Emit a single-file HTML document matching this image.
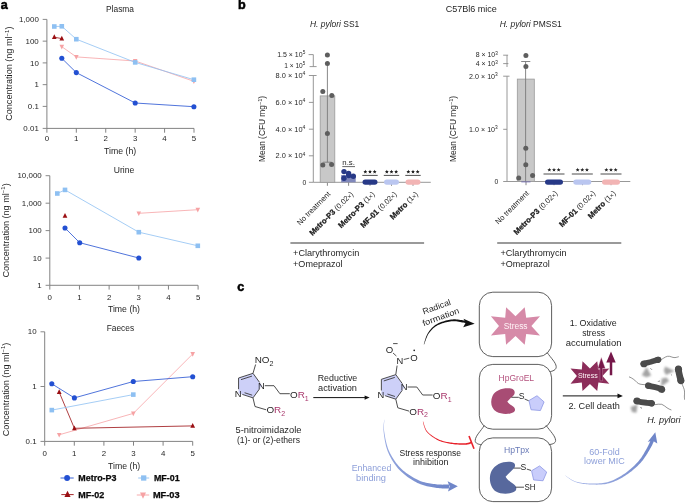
<!DOCTYPE html><html><head><meta charset="utf-8"><style>html,body{margin:0;padding:0;background:#fff;}svg{display:block;will-change:transform;}text{font-family:"Liberation Sans",sans-serif;}</style></head><body>
<svg width="685" height="503" viewBox="0 0 685 503" fill="#1e1e1e">
<rect width="685" height="503" fill="#fff"/>
<text x="0.70" y="8.70" font-size="12.6" fill="#000" font-weight="bold" stroke="#000" stroke-width="0.55">a</text>
<line x1="46.90" y1="19.40" x2="46.90" y2="128.40" stroke="#7c7c7c" stroke-width="0.95" />
<line x1="46.90" y1="128.40" x2="194.00" y2="128.40" stroke="#7c7c7c" stroke-width="0.95" />
<line x1="42.70" y1="19.40" x2="46.90" y2="19.40" stroke="#7c7c7c" stroke-width="0.9" />
<text x="38.80" y="22.05" font-size="7.4" text-anchor="end" fill="#262626" textLength="19.81" lengthAdjust="spacingAndGlyphs">1,000</text>
<line x1="42.70" y1="41.15" x2="46.90" y2="41.15" stroke="#7c7c7c" stroke-width="0.9" />
<text x="38.80" y="43.80" font-size="7.4" text-anchor="end" fill="#262626" textLength="13.21" lengthAdjust="spacingAndGlyphs">100</text>
<line x1="42.70" y1="62.90" x2="46.90" y2="62.90" stroke="#7c7c7c" stroke-width="0.9" />
<text x="38.80" y="65.55" font-size="7.4" text-anchor="end" fill="#262626" textLength="8.81" lengthAdjust="spacingAndGlyphs">10</text>
<line x1="42.70" y1="84.65" x2="46.90" y2="84.65" stroke="#7c7c7c" stroke-width="0.9" />
<text x="38.80" y="87.30" font-size="7.4" text-anchor="end" fill="#262626" textLength="4.4" lengthAdjust="spacingAndGlyphs">1</text>
<line x1="42.70" y1="106.40" x2="46.90" y2="106.40" stroke="#7c7c7c" stroke-width="0.9" />
<text x="38.80" y="109.05" font-size="7.4" text-anchor="end" fill="#262626" textLength="11.01" lengthAdjust="spacingAndGlyphs">0.1</text>
<line x1="42.70" y1="128.40" x2="46.90" y2="128.40" stroke="#7c7c7c" stroke-width="0.9" />
<text x="38.80" y="131.05" font-size="7.4" text-anchor="end" fill="#262626" textLength="15.41" lengthAdjust="spacingAndGlyphs">0.01</text>
<line x1="46.90" y1="128.40" x2="46.90" y2="132.70" stroke="#7c7c7c" stroke-width="0.95" />
<text x="46.90" y="141.00" font-size="7.4" text-anchor="middle" fill="#262626" textLength="4.4" lengthAdjust="spacingAndGlyphs">0</text>
<line x1="76.32" y1="128.40" x2="76.32" y2="132.70" stroke="#7c7c7c" stroke-width="0.95" />
<text x="76.32" y="141.00" font-size="7.4" text-anchor="middle" fill="#262626" textLength="4.4" lengthAdjust="spacingAndGlyphs">1</text>
<line x1="105.74" y1="128.40" x2="105.74" y2="132.70" stroke="#7c7c7c" stroke-width="0.95" />
<text x="105.74" y="141.00" font-size="7.4" text-anchor="middle" fill="#262626" textLength="4.4" lengthAdjust="spacingAndGlyphs">2</text>
<line x1="135.16" y1="128.40" x2="135.16" y2="132.70" stroke="#7c7c7c" stroke-width="0.95" />
<text x="135.16" y="141.00" font-size="7.4" text-anchor="middle" fill="#262626" textLength="4.4" lengthAdjust="spacingAndGlyphs">3</text>
<line x1="164.58" y1="128.40" x2="164.58" y2="132.70" stroke="#7c7c7c" stroke-width="0.95" />
<text x="164.58" y="141.00" font-size="7.4" text-anchor="middle" fill="#262626" textLength="4.4" lengthAdjust="spacingAndGlyphs">4</text>
<line x1="194.00" y1="128.40" x2="194.00" y2="132.70" stroke="#7c7c7c" stroke-width="0.95" />
<text x="194.00" y="141.00" font-size="7.4" text-anchor="middle" fill="#262626" textLength="4.4" lengthAdjust="spacingAndGlyphs">5</text>
<text x="120.00" y="11.60" font-size="9.1" text-anchor="middle" fill="#1e1e1e" textLength="28.0" lengthAdjust="spacingAndGlyphs">Plasma</text>
<text x="120.15" y="153.70" font-size="8.9" text-anchor="middle" fill="#1e1e1e" textLength="32.1" lengthAdjust="spacingAndGlyphs">Time (h)</text>
<text x="12.20" y="73.70" font-size="9" fill="#1e1e1e" text-anchor="middle" transform="rotate(-90 12.20 73.70)" textLength="94.3" lengthAdjust="spacingAndGlyphs">Concentration (ng ml<tspan font-size="6" dy="-3.4">−1</tspan><tspan dy="3.4">)</tspan></text>
<polyline points="61.80,46.70 76.30,56.90 135.20,61.00 193.90,81.30" fill="none" stroke="#f6a2a4" stroke-width="0.8" stroke-linejoin="round" />
<polygon points="61.80,49.50 64.10,44.80 59.50,44.80" fill="#f6a2a4"/>
<polygon points="76.30,59.70 78.60,55.00 74.00,55.00" fill="#f6a2a4"/>
<polygon points="135.20,63.80 137.50,59.10 132.90,59.10" fill="#f6a2a4"/>
<polygon points="193.90,84.10 196.20,79.40 191.60,79.40" fill="#f6a2a4"/>
<polyline points="54.30,37.20 61.80,38.60" fill="none" stroke="#9a0e12" stroke-width="0.8" stroke-linejoin="round" />
<polygon points="54.30,34.30 56.65,39.10 51.95,39.10" fill="#9a0e12"/>
<polygon points="61.80,35.70 64.15,40.50 59.45,40.50" fill="#9a0e12"/>
<polyline points="54.30,26.50 61.80,26.30 76.30,39.20 135.20,62.40 193.90,79.70" fill="none" stroke="#8ec0f2" stroke-width="0.8" stroke-linejoin="round" />
<rect x="52.00" y="24.20" width="4.60" height="4.60" fill="#8ec0f2"/>
<rect x="59.50" y="24.00" width="4.60" height="4.60" fill="#8ec0f2"/>
<rect x="74.00" y="36.90" width="4.60" height="4.60" fill="#8ec0f2"/>
<rect x="132.90" y="60.10" width="4.60" height="4.60" fill="#8ec0f2"/>
<rect x="191.60" y="77.40" width="4.60" height="4.60" fill="#8ec0f2"/>
<polyline points="61.80,58.30 76.30,72.60 135.20,103.00 193.90,106.70" fill="none" stroke="#2350d2" stroke-width="0.8" stroke-linejoin="round" />
<circle cx="61.80" cy="58.30" r="2.55" fill="#2350d2"/>
<circle cx="76.30" cy="72.60" r="2.55" fill="#2350d2"/>
<circle cx="135.20" cy="103.00" r="2.55" fill="#2350d2"/>
<circle cx="193.90" cy="106.70" r="2.55" fill="#2350d2"/>
<line x1="49.80" y1="175.70" x2="49.80" y2="285.30" stroke="#7c7c7c" stroke-width="0.95" />
<line x1="49.80" y1="285.30" x2="198.00" y2="285.30" stroke="#7c7c7c" stroke-width="0.95" />
<line x1="45.60" y1="175.70" x2="49.80" y2="175.70" stroke="#7c7c7c" stroke-width="0.9" />
<text x="41.70" y="178.35" font-size="7.4" text-anchor="end" fill="#262626" textLength="24.22" lengthAdjust="spacingAndGlyphs">10,000</text>
<line x1="45.60" y1="203.20" x2="49.80" y2="203.20" stroke="#7c7c7c" stroke-width="0.9" />
<text x="41.70" y="205.85" font-size="7.4" text-anchor="end" fill="#262626" textLength="19.81" lengthAdjust="spacingAndGlyphs">1,000</text>
<line x1="45.60" y1="230.60" x2="49.80" y2="230.60" stroke="#7c7c7c" stroke-width="0.9" />
<text x="41.70" y="233.25" font-size="7.4" text-anchor="end" fill="#262626" textLength="13.21" lengthAdjust="spacingAndGlyphs">100</text>
<line x1="45.60" y1="258.10" x2="49.80" y2="258.10" stroke="#7c7c7c" stroke-width="0.9" />
<text x="41.70" y="260.75" font-size="7.4" text-anchor="end" fill="#262626" textLength="8.81" lengthAdjust="spacingAndGlyphs">10</text>
<line x1="45.60" y1="285.30" x2="49.80" y2="285.30" stroke="#7c7c7c" stroke-width="0.9" />
<text x="41.70" y="287.95" font-size="7.4" text-anchor="end" fill="#262626" textLength="4.4" lengthAdjust="spacingAndGlyphs">1</text>
<line x1="49.80" y1="285.30" x2="49.80" y2="289.60" stroke="#7c7c7c" stroke-width="0.95" />
<text x="49.80" y="299.90" font-size="7.4" text-anchor="middle" fill="#262626" textLength="4.4" lengthAdjust="spacingAndGlyphs">0</text>
<line x1="79.46" y1="285.30" x2="79.46" y2="289.60" stroke="#7c7c7c" stroke-width="0.95" />
<text x="79.46" y="299.90" font-size="7.4" text-anchor="middle" fill="#262626" textLength="4.4" lengthAdjust="spacingAndGlyphs">1</text>
<line x1="109.12" y1="285.30" x2="109.12" y2="289.60" stroke="#7c7c7c" stroke-width="0.95" />
<text x="109.12" y="299.90" font-size="7.4" text-anchor="middle" fill="#262626" textLength="4.4" lengthAdjust="spacingAndGlyphs">2</text>
<line x1="138.78" y1="285.30" x2="138.78" y2="289.60" stroke="#7c7c7c" stroke-width="0.95" />
<text x="138.78" y="299.90" font-size="7.4" text-anchor="middle" fill="#262626" textLength="4.4" lengthAdjust="spacingAndGlyphs">3</text>
<line x1="168.44" y1="285.30" x2="168.44" y2="289.60" stroke="#7c7c7c" stroke-width="0.95" />
<text x="168.44" y="299.90" font-size="7.4" text-anchor="middle" fill="#262626" textLength="4.4" lengthAdjust="spacingAndGlyphs">4</text>
<line x1="198.10" y1="285.30" x2="198.10" y2="289.60" stroke="#7c7c7c" stroke-width="0.95" />
<text x="198.10" y="299.90" font-size="7.4" text-anchor="middle" fill="#262626" textLength="4.4" lengthAdjust="spacingAndGlyphs">5</text>
<text x="123.95" y="173.10" font-size="9.1" text-anchor="middle" fill="#1e1e1e" textLength="20.5" lengthAdjust="spacingAndGlyphs">Urine</text>
<text x="124.00" y="311.90" font-size="8.9" text-anchor="middle" fill="#1e1e1e" textLength="32.1" lengthAdjust="spacingAndGlyphs">Time (h)</text>
<text x="8.80" y="230.40" font-size="9" fill="#1e1e1e" text-anchor="middle" transform="rotate(-90 8.80 230.40)" textLength="94.2" lengthAdjust="spacingAndGlyphs">Concentration (ng ml<tspan font-size="6" dy="-3.4">−1</tspan><tspan dy="3.4">)</tspan></text>
<polyline points="138.80,213.30 197.80,209.70" fill="none" stroke="#f6a2a4" stroke-width="0.8" stroke-linejoin="round" />
<polygon points="138.80,216.10 141.10,211.40 136.50,211.40" fill="#f6a2a4"/>
<polygon points="197.80,212.50 200.10,207.80 195.50,207.80" fill="#f6a2a4"/>
<polygon points="65.00,212.90 67.35,217.70 62.65,217.70" fill="#9a0e12"/>
<polyline points="57.30,193.50 65.00,189.90 138.80,232.20 197.80,245.80" fill="none" stroke="#8ec0f2" stroke-width="0.8" stroke-linejoin="round" />
<rect x="55.00" y="191.20" width="4.60" height="4.60" fill="#8ec0f2"/>
<rect x="62.70" y="187.60" width="4.60" height="4.60" fill="#8ec0f2"/>
<rect x="136.50" y="229.90" width="4.60" height="4.60" fill="#8ec0f2"/>
<rect x="195.50" y="243.50" width="4.60" height="4.60" fill="#8ec0f2"/>
<polyline points="65.00,228.00 79.70,242.70 138.80,258.00" fill="none" stroke="#2350d2" stroke-width="0.8" stroke-linejoin="round" />
<circle cx="65.00" cy="228.00" r="2.55" fill="#2350d2"/>
<circle cx="79.70" cy="242.70" r="2.55" fill="#2350d2"/>
<circle cx="138.80" cy="258.00" r="2.55" fill="#2350d2"/>
<line x1="44.70" y1="331.80" x2="44.70" y2="441.40" stroke="#7c7c7c" stroke-width="0.95" />
<line x1="44.70" y1="441.40" x2="192.70" y2="441.40" stroke="#7c7c7c" stroke-width="0.95" />
<line x1="40.50" y1="331.80" x2="44.70" y2="331.80" stroke="#7c7c7c" stroke-width="0.9" />
<text x="36.60" y="334.45" font-size="7.4" text-anchor="end" fill="#262626" textLength="8.81" lengthAdjust="spacingAndGlyphs">10</text>
<line x1="40.50" y1="386.50" x2="44.70" y2="386.50" stroke="#7c7c7c" stroke-width="0.9" />
<text x="36.60" y="389.15" font-size="7.4" text-anchor="end" fill="#262626" textLength="4.4" lengthAdjust="spacingAndGlyphs">1</text>
<line x1="40.50" y1="441.40" x2="44.70" y2="441.40" stroke="#7c7c7c" stroke-width="0.9" />
<text x="36.60" y="444.05" font-size="7.4" text-anchor="end" fill="#262626" textLength="11.01" lengthAdjust="spacingAndGlyphs">0.1</text>
<line x1="44.70" y1="441.40" x2="44.70" y2="445.70" stroke="#7c7c7c" stroke-width="0.95" />
<text x="44.70" y="455.60" font-size="7.4" text-anchor="middle" fill="#262626" textLength="4.4" lengthAdjust="spacingAndGlyphs">0</text>
<line x1="74.30" y1="441.40" x2="74.30" y2="445.70" stroke="#7c7c7c" stroke-width="0.95" />
<text x="74.30" y="455.60" font-size="7.4" text-anchor="middle" fill="#262626" textLength="4.4" lengthAdjust="spacingAndGlyphs">1</text>
<line x1="103.90" y1="441.40" x2="103.90" y2="445.70" stroke="#7c7c7c" stroke-width="0.95" />
<text x="103.90" y="455.60" font-size="7.4" text-anchor="middle" fill="#262626" textLength="4.4" lengthAdjust="spacingAndGlyphs">2</text>
<line x1="133.50" y1="441.40" x2="133.50" y2="445.70" stroke="#7c7c7c" stroke-width="0.95" />
<text x="133.50" y="455.60" font-size="7.4" text-anchor="middle" fill="#262626" textLength="4.4" lengthAdjust="spacingAndGlyphs">3</text>
<line x1="163.10" y1="441.40" x2="163.10" y2="445.70" stroke="#7c7c7c" stroke-width="0.95" />
<text x="163.10" y="455.60" font-size="7.4" text-anchor="middle" fill="#262626" textLength="4.4" lengthAdjust="spacingAndGlyphs">4</text>
<line x1="192.70" y1="441.40" x2="192.70" y2="445.70" stroke="#7c7c7c" stroke-width="0.95" />
<text x="192.70" y="455.60" font-size="7.4" text-anchor="middle" fill="#262626" textLength="4.4" lengthAdjust="spacingAndGlyphs">5</text>
<text x="120.40" y="331.10" font-size="9.1" text-anchor="middle" fill="#1e1e1e" textLength="27.4" lengthAdjust="spacingAndGlyphs">Faeces</text>
<text x="124.10" y="468.50" font-size="8.9" text-anchor="middle" fill="#1e1e1e" textLength="32.1" lengthAdjust="spacingAndGlyphs">Time (h)</text>
<text x="8.80" y="389.50" font-size="9" fill="#1e1e1e" text-anchor="middle" transform="rotate(-90 8.80 389.50)" textLength="93.5" lengthAdjust="spacingAndGlyphs">Concentration (ng ml<tspan font-size="6" dy="-3.4">−1</tspan><tspan dy="3.4">)</tspan></text>
<polyline points="59.20,434.80 133.30,413.40 192.70,354.00" fill="none" stroke="#f6a2a4" stroke-width="0.8" stroke-linejoin="round" />
<polygon points="59.20,437.60 61.50,432.90 56.90,432.90" fill="#f6a2a4"/>
<polygon points="133.30,416.20 135.60,411.50 131.00,411.50" fill="#f6a2a4"/>
<polygon points="192.70,356.80 195.00,352.10 190.40,352.10" fill="#f6a2a4"/>
<polyline points="59.20,392.20 74.40,428.30 192.70,425.90" fill="none" stroke="#9a0e12" stroke-width="0.8" stroke-linejoin="round" />
<polygon points="59.20,389.30 61.55,394.10 56.85,394.10" fill="#9a0e12"/>
<polygon points="74.40,425.40 76.75,430.20 72.05,430.20" fill="#9a0e12"/>
<polygon points="192.70,423.00 195.05,427.80 190.35,427.80" fill="#9a0e12"/>
<polyline points="51.80,410.10 133.30,394.60" fill="none" stroke="#8ec0f2" stroke-width="0.8" stroke-linejoin="round" />
<rect x="49.50" y="407.80" width="4.60" height="4.60" fill="#8ec0f2"/>
<rect x="131.00" y="392.30" width="4.60" height="4.60" fill="#8ec0f2"/>
<polyline points="51.80,383.80 74.40,397.90 133.30,381.50 192.70,376.70" fill="none" stroke="#2350d2" stroke-width="0.8" stroke-linejoin="round" />
<circle cx="51.80" cy="383.80" r="2.55" fill="#2350d2"/>
<circle cx="74.40" cy="397.90" r="2.55" fill="#2350d2"/>
<circle cx="133.30" cy="381.50" r="2.55" fill="#2350d2"/>
<circle cx="192.70" cy="376.70" r="2.55" fill="#2350d2"/>
<line x1="60.50" y1="478.00" x2="73.70" y2="478.00" stroke="#2350d2" stroke-width="0.9" />
<circle cx="67.10" cy="478.00" r="2.93" fill="#2350d2"/>
<text x="78.30" y="481.20" font-size="8.6" fill="#0a0a0a" font-weight="bold" textLength="38.2" lengthAdjust="spacingAndGlyphs" stroke="#0a0a0a" stroke-width="0.25">Metro-P3</text>
<line x1="138.20" y1="478.00" x2="149.20" y2="478.00" stroke="#8ec0f2" stroke-width="0.9" />
<rect x="141.05" y="475.36" width="5.29" height="5.29" fill="#8ec0f2"/>
<text x="153.90" y="481.20" font-size="8.6" fill="#0a0a0a" font-weight="bold" textLength="25.7" lengthAdjust="spacingAndGlyphs" stroke="#0a0a0a" stroke-width="0.25">MF-01</text>
<line x1="61.30" y1="494.60" x2="73.70" y2="494.60" stroke="#9a0e12" stroke-width="0.9" />
<polygon points="67.50,490.83 70.56,497.07 64.44,497.07" fill="#9a0e12"/>
<text x="78.30" y="497.80" font-size="8.6" fill="#0a0a0a" font-weight="bold" textLength="26.0" lengthAdjust="spacingAndGlyphs" stroke="#0a0a0a" stroke-width="0.25">MF-02</text>
<line x1="136.80" y1="495.00" x2="149.20" y2="495.00" stroke="#f6a2a4" stroke-width="0.9" />
<polygon points="143.00,498.64 145.99,492.53 140.01,492.53" fill="#f6a2a4"/>
<text x="152.90" y="498.20" font-size="8.6" fill="#0a0a0a" font-weight="bold" textLength="26.7" lengthAdjust="spacingAndGlyphs" stroke="#0a0a0a" stroke-width="0.25">MF-03</text>
<text x="237.90" y="8.60" font-size="12.6" fill="#000" font-weight="bold" stroke="#000" stroke-width="0.55">b</text>
<text x="471.30" y="11.80" font-size="8.8" text-anchor="middle" fill="#1e1e1e" textLength="51.2" lengthAdjust="spacingAndGlyphs">C57Bl6 mice</text>
<text x="309.9" y="27.2" font-size="8.6" textLength="49.4" lengthAdjust="spacingAndGlyphs"><tspan font-style="italic">H. pylori</tspan> SS1</text>
<text x="499.7" y="27.2" font-size="8.6" textLength="62.1" lengthAdjust="spacingAndGlyphs"><tspan font-style="italic">H. pylori</tspan> PMSS1</text>
<text x="264.80" y="129.00" font-size="8.4" text-anchor="middle" transform="rotate(-90 264.80 129.00)" textLength="66.1" lengthAdjust="spacingAndGlyphs">Mean (CFU mg<tspan font-size="5.6" dy="-3">−1</tspan><tspan dy="3">)</tspan></text>
<text x="455.70" y="129.00" font-size="8.4" text-anchor="middle" transform="rotate(-90 455.70 129.00)" textLength="66.1" lengthAdjust="spacingAndGlyphs">Mean (CFU mg<tspan font-size="5.6" dy="-3">−1</tspan><tspan dy="3">)</tspan></text>
<line x1="313.30" y1="54.60" x2="313.30" y2="66.60" stroke="#8c8c8c" stroke-width="0.9" />
<line x1="308.60" y1="54.60" x2="313.30" y2="54.60" stroke="#8c8c8c" stroke-width="0.9" />
<line x1="309.60" y1="66.60" x2="316.60" y2="66.60" stroke="#8c8c8c" stroke-width="0.9" />
<line x1="313.30" y1="75.50" x2="313.30" y2="182.30" stroke="#8c8c8c" stroke-width="0.9" />
<line x1="308.90" y1="75.50" x2="316.60" y2="75.50" stroke="#8c8c8c" stroke-width="0.9" />
<line x1="308.90" y1="102.40" x2="313.30" y2="102.40" stroke="#8c8c8c" stroke-width="0.9" />
<line x1="308.90" y1="129.20" x2="313.30" y2="129.20" stroke="#8c8c8c" stroke-width="0.9" />
<line x1="308.90" y1="155.80" x2="313.30" y2="155.80" stroke="#8c8c8c" stroke-width="0.9" />
<line x1="308.90" y1="182.30" x2="313.30" y2="182.30" stroke="#8c8c8c" stroke-width="0.9" />
<line x1="313.30" y1="182.30" x2="430.80" y2="182.30" stroke="#8c8c8c" stroke-width="0.9" />
<text x="305.30" y="57.00" font-size="6.6" text-anchor="end" fill="#262626" textLength="28.13" lengthAdjust="spacingAndGlyphs">1.5 × 10<tspan font-size="4.49" dy="-2.7">5</tspan></text>
<text x="305.30" y="67.70" font-size="6.6" text-anchor="end" fill="#262626" textLength="21.03" lengthAdjust="spacingAndGlyphs">1 × 10<tspan font-size="4.49" dy="-2.7">5</tspan></text>
<text x="305.30" y="77.90" font-size="6.6" text-anchor="end" fill="#262626" textLength="29.72" lengthAdjust="spacingAndGlyphs">8.0 × 10<tspan font-size="4.49" dy="-2.7">4</tspan></text>
<text x="305.30" y="104.80" font-size="6.6" text-anchor="end" fill="#262626" textLength="29.72" lengthAdjust="spacingAndGlyphs">6.0 × 10<tspan font-size="4.49" dy="-2.7">4</tspan></text>
<text x="305.30" y="131.60" font-size="6.6" text-anchor="end" fill="#262626" textLength="29.72" lengthAdjust="spacingAndGlyphs">4.0 × 10<tspan font-size="4.49" dy="-2.7">4</tspan></text>
<text x="305.30" y="158.20" font-size="6.6" text-anchor="end" fill="#262626" textLength="29.72" lengthAdjust="spacingAndGlyphs">2.0 × 10<tspan font-size="4.49" dy="-2.7">4</tspan></text>
<text x="306.40" y="184.70" font-size="6.8" text-anchor="end" fill="#262626">0</text>
<line x1="327.40" y1="182.30" x2="327.40" y2="185.80" stroke="#7a7a7a" stroke-width="0.9" />
<line x1="348.60" y1="182.30" x2="348.60" y2="185.80" stroke="#7a7a7a" stroke-width="0.9" />
<line x1="370.00" y1="182.30" x2="370.00" y2="185.80" stroke="#7a7a7a" stroke-width="0.9" />
<line x1="391.50" y1="182.30" x2="391.50" y2="185.80" stroke="#7a7a7a" stroke-width="0.9" />
<line x1="413.00" y1="182.30" x2="413.00" y2="185.80" stroke="#7a7a7a" stroke-width="0.9" />
<rect x="320.2" y="95.9" width="14.6" height="86.4" fill="#c8c8c8" stroke="#9a9a9a" stroke-width="0.8"/>
<line x1="327.40" y1="63.40" x2="327.40" y2="162.20" stroke="#7a7a7a" stroke-width="0.9" />
<line x1="323.20" y1="162.20" x2="331.60" y2="162.20" stroke="#7a7a7a" stroke-width="0.9" />
<circle cx="327.4" cy="55.0" r="2.5" fill="#5e5e5e"/>
<circle cx="327.4" cy="63.4" r="2.5" fill="#5e5e5e"/>
<circle cx="322.8" cy="91.5" r="2.5" fill="#5e5e5e"/>
<circle cx="331.8" cy="95.5" r="2.5" fill="#5e5e5e"/>
<circle cx="327.4" cy="133.5" r="2.5" fill="#5e5e5e"/>
<circle cx="322.8" cy="165.0" r="2.5" fill="#5e5e5e"/>
<circle cx="331.6" cy="164.5" r="2.5" fill="#5e5e5e"/>
<rect x="341.2" y="175.0" width="14.5" height="7.3" fill="#8088bb"/>
<circle cx="348.8" cy="175.6" r="2.7" fill="#273987"/>
<circle cx="344.0" cy="171.6" r="2.7" fill="#273987"/>
<circle cx="348.6" cy="173.4" r="2.7" fill="#273987"/>
<circle cx="353.3" cy="176.2" r="2.7" fill="#273987"/>
<circle cx="344.0" cy="178.2" r="2.7" fill="#273987"/>
<text x="348.60" y="164.80" font-size="7.2" text-anchor="middle" fill="#262626" textLength="12.6" lengthAdjust="spacingAndGlyphs">n.s.</text>
<line x1="342.30" y1="166.60" x2="355.00" y2="166.60" stroke="#555" stroke-width="0.9" />
<rect x="362.50" y="179.40" width="15" height="5.4" rx="2.7" fill="#273987"/>
<rect x="384.00" y="179.40" width="15" height="5.4" rx="2.7" fill="#bac6f0"/>
<rect x="405.50" y="179.40" width="15" height="5.4" rx="2.7" fill="#f2b4b4"/>
<polygon points="365.35,169.70 365.91,171.03 367.35,171.15 366.25,172.09 366.58,173.50 365.35,172.75 364.12,173.50 364.45,172.09 363.35,171.15 364.79,171.03" fill="#1e1e1e"/>
<polygon points="370.00,169.70 370.56,171.03 372.00,171.15 370.90,172.09 371.23,173.50 370.00,172.75 368.77,173.50 369.10,172.09 368.00,171.15 369.44,171.03" fill="#1e1e1e"/>
<polygon points="374.65,169.70 375.21,171.03 376.65,171.15 375.55,172.09 375.88,173.50 374.65,172.75 373.42,173.50 373.75,172.09 372.65,171.15 374.09,171.03" fill="#1e1e1e"/>
<line x1="362.30" y1="175.40" x2="377.70" y2="175.40" stroke="#444" stroke-width="0.95" />
<polygon points="386.85,169.70 387.41,171.03 388.85,171.15 387.75,172.09 388.08,173.50 386.85,172.75 385.62,173.50 385.95,172.09 384.85,171.15 386.29,171.03" fill="#1e1e1e"/>
<polygon points="391.50,169.70 392.06,171.03 393.50,171.15 392.40,172.09 392.73,173.50 391.50,172.75 390.27,173.50 390.60,172.09 389.50,171.15 390.94,171.03" fill="#1e1e1e"/>
<polygon points="396.15,169.70 396.71,171.03 398.15,171.15 397.05,172.09 397.38,173.50 396.15,172.75 394.92,173.50 395.25,172.09 394.15,171.15 395.59,171.03" fill="#1e1e1e"/>
<line x1="383.80" y1="175.40" x2="399.20" y2="175.40" stroke="#444" stroke-width="0.95" />
<polygon points="408.35,169.70 408.91,171.03 410.35,171.15 409.25,172.09 409.58,173.50 408.35,172.75 407.12,173.50 407.45,172.09 406.35,171.15 407.79,171.03" fill="#1e1e1e"/>
<polygon points="413.00,169.70 413.56,171.03 415.00,171.15 413.90,172.09 414.23,173.50 413.00,172.75 411.77,173.50 412.10,172.09 411.00,171.15 412.44,171.03" fill="#1e1e1e"/>
<polygon points="417.65,169.70 418.21,171.03 419.65,171.15 418.55,172.09 418.88,173.50 417.65,172.75 416.42,173.50 416.75,172.09 415.65,171.15 417.09,171.03" fill="#1e1e1e"/>
<line x1="405.30" y1="175.40" x2="420.70" y2="175.40" stroke="#444" stroke-width="0.95" />
<text x="331.00" y="194.60" font-size="7.75" text-anchor="end" transform="rotate(-45 331.00 194.60)" fill="#222"><tspan font-size="7.6">No treatment</tspan></text>
<text x="353.80" y="194.60" font-size="7.75" text-anchor="end" transform="rotate(-45 353.80 194.60)" fill="#222"><tspan font-weight="bold" stroke="#111" stroke-width="0.25">Metro-P3</tspan><tspan font-size="7.6"> (0.02<tspan font-size="5.8">×</tspan>)</tspan></text>
<text x="375.30" y="194.60" font-size="7.75" text-anchor="end" transform="rotate(-45 375.30 194.60)" fill="#222"><tspan font-weight="bold" stroke="#111" stroke-width="0.25">Metro-P3</tspan><tspan font-size="7.6"> (1<tspan font-size="5.8">×</tspan>)</tspan></text>
<text x="397.30" y="194.60" font-size="7.75" text-anchor="end" transform="rotate(-45 397.30 194.60)" fill="#222"><tspan font-weight="bold" stroke="#111" stroke-width="0.25">MF-01</tspan><tspan font-size="7.6"> (0.02<tspan font-size="5.8">×</tspan>)</tspan></text>
<text x="418.50" y="194.60" font-size="7.75" text-anchor="end" transform="rotate(-45 418.50 194.60)" fill="#222"><tspan font-weight="bold" stroke="#111" stroke-width="0.25">Metro</tspan><tspan font-size="7.6"> (1<tspan font-size="5.8">×</tspan>)</tspan></text>
<line x1="507.00" y1="55.20" x2="507.00" y2="67.00" stroke="#8c8c8c" stroke-width="0.9" />
<line x1="503.20" y1="55.20" x2="508.10" y2="55.20" stroke="#8c8c8c" stroke-width="0.9" />
<line x1="503.20" y1="63.60" x2="508.40" y2="63.60" stroke="#8c8c8c" stroke-width="0.9" />
<line x1="507.00" y1="76.20" x2="507.00" y2="181.50" stroke="#8c8c8c" stroke-width="0.9" />
<line x1="503.20" y1="76.20" x2="509.50" y2="76.20" stroke="#8c8c8c" stroke-width="0.9" />
<line x1="503.20" y1="129.30" x2="507.00" y2="129.30" stroke="#8c8c8c" stroke-width="0.9" />
<line x1="503.20" y1="181.50" x2="507.00" y2="181.50" stroke="#8c8c8c" stroke-width="0.9" />
<line x1="507.00" y1="181.50" x2="630.30" y2="181.50" stroke="#8c8c8c" stroke-width="0.9" />
<text x="497.80" y="57.20" font-size="6.6" text-anchor="end" fill="#262626" textLength="22.08" lengthAdjust="spacingAndGlyphs">8 × 10<tspan font-size="4.49" dy="-2.7">3</tspan></text>
<text x="497.80" y="66.40" font-size="6.6" text-anchor="end" fill="#262626" textLength="22.08" lengthAdjust="spacingAndGlyphs">4 × 10<tspan font-size="4.49" dy="-2.7">3</tspan></text>
<text x="497.80" y="78.80" font-size="6.6" text-anchor="end" fill="#262626" textLength="28.66" lengthAdjust="spacingAndGlyphs">2.0 × 10<tspan font-size="4.49" dy="-2.7">3</tspan></text>
<text x="497.80" y="131.70" font-size="6.6" text-anchor="end" fill="#262626" textLength="28.66" lengthAdjust="spacingAndGlyphs">1.0 × 10<tspan font-size="4.49" dy="-2.7">3</tspan></text>
<text x="498.40" y="183.90" font-size="6.8" text-anchor="end" fill="#262626">0</text>
<line x1="526.00" y1="181.50" x2="526.00" y2="185.20" stroke="#7a7a7a" stroke-width="0.9" />
<line x1="554.00" y1="181.50" x2="554.00" y2="185.20" stroke="#7a7a7a" stroke-width="0.9" />
<line x1="582.50" y1="181.50" x2="582.50" y2="185.20" stroke="#7a7a7a" stroke-width="0.9" />
<line x1="611.00" y1="181.50" x2="611.00" y2="185.20" stroke="#7a7a7a" stroke-width="0.9" />
<rect x="517.3" y="79.1" width="17" height="102.4" fill="#c8c8c8" stroke="#9a9a9a" stroke-width="0.8"/>
<line x1="525.60" y1="61.50" x2="525.60" y2="181.50" stroke="#7a7a7a" stroke-width="0.9" />
<line x1="521.20" y1="61.50" x2="530.30" y2="61.50" stroke="#7a7a7a" stroke-width="0.9" />
<circle cx="525.9" cy="55.6" r="2.5" fill="#5e5e5e"/>
<circle cx="525.9" cy="66.6" r="2.5" fill="#5e5e5e"/>
<circle cx="525.8" cy="148.3" r="2.5" fill="#5e5e5e"/>
<circle cx="525.8" cy="164.7" r="2.5" fill="#5e5e5e"/>
<circle cx="518.7" cy="178.0" r="2.5" fill="#5e5e5e"/>
<circle cx="532.6" cy="175.5" r="2.5" fill="#5e5e5e"/>
<line x1="521.30" y1="181.90" x2="530.50" y2="181.90" stroke="#6a62b0" stroke-width="0.8" />
<rect x="545.00" y="179.40" width="18" height="5.4" rx="2.7" fill="#273987"/>
<rect x="573.30" y="179.40" width="18" height="5.4" rx="2.7" fill="#bac6f0"/>
<rect x="602.00" y="179.40" width="18" height="5.4" rx="2.7" fill="#f2b4b4"/>
<polygon points="549.35,167.80 549.91,169.13 551.35,169.25 550.25,170.19 550.58,171.60 549.35,170.85 548.12,171.60 548.45,170.19 547.35,169.25 548.79,169.13" fill="#1e1e1e"/>
<polygon points="554.00,167.80 554.56,169.13 556.00,169.25 554.90,170.19 555.23,171.60 554.00,170.85 552.77,171.60 553.10,170.19 552.00,169.25 553.44,169.13" fill="#1e1e1e"/>
<polygon points="558.65,167.80 559.21,169.13 560.65,169.25 559.55,170.19 559.88,171.60 558.65,170.85 557.42,171.60 557.75,170.19 556.65,169.25 558.09,169.13" fill="#1e1e1e"/>
<line x1="543.50" y1="174.00" x2="564.50" y2="174.00" stroke="#444" stroke-width="0.95" />
<polygon points="577.65,167.80 578.21,169.13 579.65,169.25 578.55,170.19 578.88,171.60 577.65,170.85 576.42,171.60 576.75,170.19 575.65,169.25 577.09,169.13" fill="#1e1e1e"/>
<polygon points="582.30,167.80 582.86,169.13 584.30,169.25 583.20,170.19 583.53,171.60 582.30,170.85 581.07,171.60 581.40,170.19 580.30,169.25 581.74,169.13" fill="#1e1e1e"/>
<polygon points="586.95,167.80 587.51,169.13 588.95,169.25 587.85,170.19 588.18,171.60 586.95,170.85 585.72,171.60 586.05,170.19 584.95,169.25 586.39,169.13" fill="#1e1e1e"/>
<line x1="571.80" y1="174.00" x2="592.80" y2="174.00" stroke="#444" stroke-width="0.95" />
<polygon points="606.35,167.80 606.91,169.13 608.35,169.25 607.25,170.19 607.58,171.60 606.35,170.85 605.12,171.60 605.45,170.19 604.35,169.25 605.79,169.13" fill="#1e1e1e"/>
<polygon points="611.00,167.80 611.56,169.13 613.00,169.25 611.90,170.19 612.23,171.60 611.00,170.85 609.77,171.60 610.10,170.19 609.00,169.25 610.44,169.13" fill="#1e1e1e"/>
<polygon points="615.65,167.80 616.21,169.13 617.65,169.25 616.55,170.19 616.88,171.60 615.65,170.85 614.42,171.60 614.75,170.19 613.65,169.25 615.09,169.13" fill="#1e1e1e"/>
<line x1="600.50" y1="174.00" x2="621.50" y2="174.00" stroke="#444" stroke-width="0.95" />
<text x="529.40" y="193.80" font-size="7.75" text-anchor="end" transform="rotate(-45 529.40 193.80)" fill="#222"><tspan font-size="7.6">No treatment</tspan></text>
<text x="558.10" y="193.80" font-size="7.75" text-anchor="end" transform="rotate(-45 558.10 193.80)" fill="#222"><tspan font-weight="bold" stroke="#111" stroke-width="0.25">Metro-P3</tspan><tspan font-size="7.6"> (0.02<tspan font-size="5.8">×</tspan>)</tspan></text>
<text x="595.90" y="193.80" font-size="7.75" text-anchor="end" transform="rotate(-45 595.90 193.80)" fill="#222"><tspan font-weight="bold" stroke="#111" stroke-width="0.25">MF-01</tspan><tspan font-size="7.6"> (0.02<tspan font-size="5.8">×</tspan>)</tspan></text>
<text x="616.30" y="193.80" font-size="7.75" text-anchor="end" transform="rotate(-45 616.30 193.80)" fill="#222"><tspan font-weight="bold" stroke="#111" stroke-width="0.25">Metro</tspan><tspan font-size="7.6"> (1<tspan font-size="5.8">×</tspan>)</tspan></text>
<line x1="290.40" y1="243.00" x2="424.10" y2="243.00" stroke="#9a9a9a" stroke-width="1.9" />
<line x1="497.20" y1="243.00" x2="621.30" y2="243.00" stroke="#9a9a9a" stroke-width="1.9" />
<text x="293.10" y="256.30" font-size="8.8" fill="#1e1e1e" textLength="66.2" lengthAdjust="spacingAndGlyphs">+Clarythromycin</text>
<text x="293.10" y="267.40" font-size="8.8" fill="#1e1e1e" textLength="49.5" lengthAdjust="spacingAndGlyphs">+Omeprazol</text>
<text x="500.40" y="256.30" font-size="8.8" fill="#1e1e1e" textLength="66.2" lengthAdjust="spacingAndGlyphs">+Clarythromycin</text>
<text x="500.40" y="267.40" font-size="8.8" fill="#1e1e1e" textLength="49.5" lengthAdjust="spacingAndGlyphs">+Omeprazol</text>
<text x="237.20" y="290.80" font-size="12.6" fill="#000" font-weight="bold" stroke="#000" stroke-width="0.55">c</text>
<polygon points="261.90,385.60 252.99,397.87 238.56,393.18 238.56,378.02 252.99,373.33" fill="#cdd0f8" stroke="none"/>
<line x1="259.55" y1="388.84" x2="252.99" y2="397.87" stroke="#3a3a3a" stroke-width="0.9" />
<line x1="252.99" y1="397.87" x2="242.37" y2="394.42" stroke="#3a3a3a" stroke-width="0.9" />
<line x1="252.18" y1="395.19" x2="244.60" y2="392.73" stroke="#3a3a3a" stroke-width="0.9" />
<line x1="238.56" y1="389.18" x2="238.56" y2="378.02" stroke="#3a3a3a" stroke-width="0.9" />
<line x1="238.56" y1="378.02" x2="252.99" y2="373.33" stroke="#3a3a3a" stroke-width="0.9" />
<line x1="240.99" y1="379.65" x2="251.99" y2="376.08" stroke="#3a3a3a" stroke-width="0.9" />
<line x1="252.99" y1="373.33" x2="259.55" y2="382.36" stroke="#3a3a3a" stroke-width="0.9" />
<text x="261.30" y="388.95" font-size="9.4" text-anchor="middle" fill="#222">N</text>
<text x="238.16" y="396.53" font-size="9.4" text-anchor="middle" fill="#222">N</text>
<polyline points="264.80,385.70 274.00,385.70 279.90,393.70 289.80,393.70" fill="none" stroke="#3a3a3a" stroke-width="0.9" stroke-linejoin="round" />
<text x="290.00" y="397.90" font-size="9.9" fill="#262626">O<tspan fill="#a8376c">R</tspan><tspan fill="#a8376c" font-size="7" dy="2.8">1</tspan></text>
<polyline points="252.99,397.87 255.00,406.50 266.20,409.80" fill="none" stroke="#3a3a3a" stroke-width="0.9" stroke-linejoin="round" />
<text x="266.40" y="413.20" font-size="9.9" fill="#262626">O<tspan fill="#a8376c">R</tspan><tspan fill="#a8376c" font-size="7" dy="2.8">2</tspan></text>
<line x1="252.99" y1="373.33" x2="255.60" y2="364.50" stroke="#3a3a3a" stroke-width="0.9" />
<text x="254.70" y="362.60" font-size="9.9" fill="#262626">NO<tspan font-size="7.1" dy="2.9">2</tspan></text>
<polygon points="404.70,386.90 395.79,399.17 381.36,394.48 381.36,379.32 395.79,374.63" fill="#cdd0f8" stroke="none"/>
<line x1="402.35" y1="390.14" x2="395.79" y2="399.17" stroke="#3a3a3a" stroke-width="0.9" />
<line x1="395.79" y1="399.17" x2="385.17" y2="395.72" stroke="#3a3a3a" stroke-width="0.9" />
<line x1="394.98" y1="396.49" x2="387.40" y2="394.03" stroke="#3a3a3a" stroke-width="0.9" />
<line x1="381.36" y1="390.48" x2="381.36" y2="379.32" stroke="#3a3a3a" stroke-width="0.9" />
<line x1="381.36" y1="379.32" x2="395.79" y2="374.63" stroke="#3a3a3a" stroke-width="0.9" />
<line x1="383.79" y1="380.95" x2="394.79" y2="377.38" stroke="#3a3a3a" stroke-width="0.9" />
<line x1="395.79" y1="374.63" x2="402.35" y2="383.66" stroke="#3a3a3a" stroke-width="0.9" />
<text x="404.10" y="390.25" font-size="9.4" text-anchor="middle" fill="#222">N</text>
<text x="380.96" y="397.83" font-size="9.4" text-anchor="middle" fill="#222">N</text>
<polyline points="407.60,387.00 416.80,387.00 422.70,395.00 432.60,395.00" fill="none" stroke="#3a3a3a" stroke-width="0.9" stroke-linejoin="round" />
<text x="432.80" y="399.20" font-size="9.9" fill="#262626">O<tspan fill="#a8376c">R</tspan><tspan fill="#a8376c" font-size="7" dy="2.8">1</tspan></text>
<polyline points="395.79,399.17 397.80,407.80 409.00,411.10" fill="none" stroke="#3a3a3a" stroke-width="0.9" stroke-linejoin="round" />
<text x="409.20" y="414.50" font-size="9.9" fill="#262626">O<tspan fill="#a8376c">R</tspan><tspan fill="#a8376c" font-size="7" dy="2.8">2</tspan></text>
<line x1="395.79" y1="374.63" x2="397.10" y2="365.60" stroke="#3a3a3a" stroke-width="0.9" />
<text x="400.00" y="363.80" font-size="9.4" text-anchor="middle" fill="#222">N</text>
<line x1="396.40" y1="356.00" x2="393.00" y2="353.00" stroke="#3a3a3a" stroke-width="0.85" />
<line x1="403.80" y1="359.50" x2="409.20" y2="358.20" stroke="#3a3a3a" stroke-width="0.85" />
<text x="389.50" y="353.00" font-size="9.6" text-anchor="middle" fill="#222">O</text>
<text x="414.00" y="360.90" font-size="9.6" text-anchor="middle" fill="#222">O</text>
<line x1="393.10" y1="343.60" x2="397.60" y2="343.60" stroke="#222" stroke-width="0.8" />
<circle cx="414.2" cy="350.3" r="0.85" fill="#222"/>
<text x="337.50" y="381.00" font-size="8.8" text-anchor="middle" fill="#1e1e1e" textLength="39.6" lengthAdjust="spacingAndGlyphs">Reductive</text>
<text x="337.55" y="391.00" font-size="8.8" text-anchor="middle" fill="#1e1e1e" textLength="38.9" lengthAdjust="spacingAndGlyphs">activation</text>
<line x1="313.30" y1="397.60" x2="366.00" y2="397.60" stroke="#111" stroke-width="1.0" />
<polygon points="369.6,397.6 364.6,395.5 364.6,399.7" fill="#111"/>
<text x="268.50" y="432.80" font-size="8.8" text-anchor="middle" fill="#1e1e1e" textLength="66.0" lengthAdjust="spacingAndGlyphs">5-nitroimidazole</text>
<text x="268.50" y="442.70" font-size="8.8" text-anchor="middle" fill="#1e1e1e" textLength="63.0" lengthAdjust="spacingAndGlyphs">(1)- or (2)-ethers</text>
<rect x="479.3" y="292.2" width="72.3" height="64.4" rx="13.5" ry="13.5" fill="#fff" stroke="#555" stroke-width="0.95"/>
<rect x="479.3" y="364.4" width="72.3" height="64.8" rx="13.5" ry="13.5" fill="#fff" stroke="#555" stroke-width="0.95"/>
<rect x="479.3" y="437.9" width="72.3" height="63.7" rx="13.5" ry="13.5" fill="#fff" stroke="#555" stroke-width="0.95"/>
<path d="M547,352.4 C551,358 555.8,362.5 556.2,366.5 C556.5,370 552.5,371.3 549.5,371.7" fill="none" stroke="#555" stroke-width="0.95"/>
<path d="M546,425.3 C550,431 555.5,436 555.6,440.5 C555.7,443.5 551.5,444.4 548.8,444.6" fill="none" stroke="#555" stroke-width="0.95"/>
<path d="M484.3,425.4 C481,431 475.5,435.5 475.2,440.5 C475,443.5 479,444.5 481.1,444.6" fill="none" stroke="#555" stroke-width="0.95"/>
<polygon points="506.10,307.20 515.50,316.30 524.70,307.20 526.20,317.70 540.00,316.30 531.40,325.90 540.00,335.60 526.20,334.00 524.70,344.70 515.50,335.90 506.10,344.70 505.20,334.00 490.90,335.60 499.00,325.90 490.90,316.30 505.20,317.70" fill="#d68aa8"/>
<text x="515.65" y="328.50" font-size="8.3" text-anchor="middle" fill="#fff6f8" textLength="23.9" lengthAdjust="spacingAndGlyphs">Stress</text>
<text x="516.30" y="381.20" font-size="8.6" text-anchor="middle" fill="#b4527e" textLength="35.5" lengthAdjust="spacingAndGlyphs">HpGroEL</text>
<text x="516.70" y="452.70" font-size="8.6" text-anchor="middle" fill="#6a7bb7" textLength="25.5" lengthAdjust="spacingAndGlyphs">HpTpx</text>
<path d="M507.3,401.6 C509,399.5 511.5,397.5 513.2,395.8 C515.8,393.2 515,389.3 511,388.6 C503.5,387.5 495.5,390 492.5,396 C490,401.5 491,408.5 496.5,411.8 C501.5,414.6 509.5,414.6 513.5,412.2 C516,410.5 515.2,407.8 512.8,406.2 C510.5,404.8 508.3,403.3 507.3,401.6 Z" fill="#a84c74"/>
<line x1="511.40" y1="397.30" x2="518.80" y2="397.30" stroke="#222" stroke-width="0.8" />
<text x="521.50" y="399.20" font-size="8.6" text-anchor="middle" fill="#222">S</text>
<line x1="524.60" y1="399.00" x2="528.80" y2="400.80" stroke="#222" stroke-width="0.8" />
<polygon points="537.00,395.73 544.09,401.90 540.42,410.56 531.05,409.74 528.94,400.57" fill="#c9cdfb" stroke="#8d97e4" stroke-width="0.8"/>
<path d="M505.6,476.7 C508,474 511.5,471 513.8,468.5 C516,466 515.5,462.5 511.5,461.9 C504,460.8 495,464 491.5,471 C488.5,477 489.5,487 496,491.5 C501,494.5 510,494.5 514.5,491.5 C517.5,489.5 516.5,486 513.5,484 C510.5,482 507,479.5 505.6,476.7 Z" fill="#57689d"/>
<line x1="513.80" y1="468.10" x2="520.80" y2="468.10" stroke="#222" stroke-width="0.8" />
<text x="523.40" y="470.10" font-size="8.6" text-anchor="middle" fill="#222">S</text>
<line x1="526.80" y1="469.10" x2="531.00" y2="470.40" stroke="#222" stroke-width="0.8" />
<polygon points="539.60,465.93 546.69,472.10 543.02,480.76 533.65,479.94 531.54,470.77" fill="#c9cdfb" stroke="#8d97e4" stroke-width="0.8"/>
<line x1="515.50" y1="487.20" x2="524.00" y2="487.20" stroke="#222" stroke-width="0.8" />
<text x="524.40" y="489.70" font-size="8.6" fill="#222" textLength="11.0" lengthAdjust="spacingAndGlyphs">SH</text>
<path d="M424.04,344.45 L424.29,343.90 L424.56,343.20 L424.86,342.36 L425.20,341.42 L425.56,340.41 L425.96,339.34 L426.38,338.25 L426.84,337.16 L427.32,336.08 L427.82,335.06 L428.35,334.12 L428.91,333.27 L429.49,332.47 L430.09,331.68 L430.72,330.91 L431.38,330.16 L432.06,329.43 L432.77,328.73 L433.51,328.05 L434.29,327.39 L435.11,326.77 L435.97,326.19 L436.88,325.63 L437.83,325.12 L438.85,324.63 L439.95,324.16 L441.13,323.72 L442.36,323.30 L443.63,322.91 L444.94,322.55 L446.25,322.22 L447.57,321.94 L448.88,321.69 L450.16,321.49 L451.40,321.33 L452.57,321.22 L453.73,321.18 L454.95,321.22 L456.21,321.32 L457.49,321.48 L458.76,321.67 L460.01,321.90 L461.21,322.14 L462.35,322.38 L463.40,322.60 L464.34,322.81 L465.16,322.97 L465.83,323.09 L466.17,320.91 L465.54,320.82 L464.76,320.69 L463.82,320.51 L462.76,320.30 L461.60,320.09 L460.36,319.88 L459.07,319.68 L457.73,319.51 L456.38,319.38 L455.03,319.30 L453.71,319.30 L452.43,319.38 L451.17,319.53 L449.88,319.73 L448.55,319.98 L447.21,320.27 L445.85,320.60 L444.50,320.98 L443.17,321.39 L441.86,321.83 L440.60,322.30 L439.39,322.80 L438.24,323.33 L437.17,323.88 L436.18,324.46 L435.23,325.08 L434.34,325.73 L433.49,326.42 L432.69,327.13 L431.93,327.87 L431.21,328.64 L430.53,329.42 L429.88,330.23 L429.26,331.05 L428.67,331.88 L428.09,332.73 L427.54,333.65 L427.03,334.67 L426.55,335.74 L426.10,336.86 L425.69,337.99 L425.32,339.12 L424.97,340.21 L424.66,341.25 L424.38,342.21 L424.14,343.06 L423.93,343.78 L423.76,344.35Z" fill="#111"/>
<polygon points="474.7,323.7 463.5,318.8 465.5,323 463.2,327.3" fill="#111"/>
<text x="437.50" y="309.50" font-size="8.4" text-anchor="middle" fill="#1e1e1e" textLength="29.5" lengthAdjust="spacingAndGlyphs" transform="rotate(-20 437.50 309.50)">Radical</text>
<text x="441.80" y="319.60" font-size="8.4" text-anchor="middle" fill="#1e1e1e" textLength="38.5" lengthAdjust="spacingAndGlyphs" transform="rotate(-20 441.80 319.60)">formation</text>
<path d="M422.81,421.67 L422.96,422.15 L423.13,422.76 L423.31,423.49 L423.51,424.30 L423.74,425.19 L424.01,426.14 L424.31,427.11 L424.66,428.09 L425.06,429.06 L425.51,430.01 L426.03,430.90 L426.61,431.73 L427.27,432.50 L427.99,433.27 L428.78,434.04 L429.63,434.79 L430.52,435.53 L431.45,436.25 L432.41,436.95 L433.39,437.62 L434.39,438.27 L435.39,438.87 L436.38,439.44 L437.37,439.97 L438.35,440.45 L439.35,440.89 L440.35,441.29 L441.37,441.66 L442.39,442.00 L443.43,442.31 L444.49,442.59 L445.56,442.86 L446.64,443.10 L447.74,443.33 L448.86,443.54 L450.00,443.74 L451.20,443.93 L452.47,444.10 L453.80,444.25 L455.16,444.38 L456.53,444.50 L457.91,444.59 L459.26,444.66 L460.57,444.72 L461.82,444.76 L462.99,444.79 L464.06,444.80 L465.02,444.79 L465.90,444.76 L466.71,444.68 L467.45,444.58 L468.12,444.45 L468.73,444.30 L469.28,444.15 L469.77,443.99 L470.21,443.83 L470.59,443.69 L470.91,443.57 L471.18,443.48 L471.43,443.42 L470.97,441.78 L470.68,441.87 L470.34,441.98 L469.99,442.12 L469.62,442.26 L469.22,442.41 L468.78,442.56 L468.30,442.71 L467.76,442.85 L467.17,442.98 L466.51,443.08 L465.78,443.16 L464.98,443.21 L464.05,443.23 L463.00,443.24 L461.84,443.24 L460.61,443.22 L459.32,443.19 L457.98,443.14 L456.63,443.07 L455.27,442.99 L453.93,442.88 L452.62,442.76 L451.37,442.62 L450.20,442.46 L449.08,442.28 L447.97,442.09 L446.89,441.89 L445.82,441.67 L444.77,441.43 L443.74,441.18 L442.73,440.90 L441.72,440.59 L440.73,440.25 L439.76,439.88 L438.79,439.48 L437.83,439.03 L436.86,438.55 L435.88,438.01 L434.89,437.44 L433.90,436.83 L432.93,436.20 L431.98,435.54 L431.05,434.85 L430.17,434.15 L429.33,433.44 L428.54,432.72 L427.83,431.99 L427.19,431.27 L426.62,430.52 L426.11,429.68 L425.65,428.79 L425.24,427.86 L424.88,426.91 L424.55,425.96 L424.26,425.04 L424.01,424.17 L423.78,423.36 L423.57,422.64 L423.37,422.02 L423.19,421.53Z" fill="#e8222b"/>
<line x1="469.00" y1="436.00" x2="474.00" y2="448.80" stroke="#e8222b" stroke-width="1.6" />
<text x="430.30" y="455.90" font-size="8.4" text-anchor="middle" fill="#1e1e1e" textLength="61.6" lengthAdjust="spacingAndGlyphs">Stress response</text>
<text x="430.80" y="464.80" font-size="8.4" text-anchor="middle" fill="#1e1e1e" textLength="35.6" lengthAdjust="spacingAndGlyphs">inhibition</text>
<defs><linearGradient id="gb" gradientUnits="userSpaceOnUse" x1="384" y1="420" x2="450" y2="487"><stop offset="0" stop-color="#9fb0e6"/><stop offset="1" stop-color="#6f86c9"/></linearGradient><linearGradient id="gb2" gradientUnits="userSpaceOnUse" x1="565" y1="476" x2="652" y2="444"><stop offset="0" stop-color="#a9b8ea"/><stop offset="1" stop-color="#6f86c9"/></linearGradient></defs>
<path d="M384.20,419.79 L384.16,420.33 L384.08,420.97 L383.98,421.70 L383.87,422.52 L383.75,423.42 L383.64,424.40 L383.54,425.45 L383.46,426.57 L383.42,427.74 L383.43,428.96 L383.48,430.23 L383.59,431.54 L383.75,432.91 L383.93,434.39 L384.13,435.97 L384.36,437.61 L384.63,439.32 L384.93,441.06 L385.28,442.83 L385.67,444.61 L386.11,446.38 L386.61,448.12 L387.16,449.82 L387.78,451.46 L388.46,453.06 L389.19,454.66 L389.98,456.26 L390.81,457.86 L391.70,459.44 L392.64,461.01 L393.62,462.55 L394.65,464.07 L395.73,465.55 L396.86,466.99 L398.03,468.39 L399.25,469.73 L400.53,471.04 L401.90,472.33 L403.33,473.59 L404.81,474.82 L406.34,476.01 L407.91,477.16 L409.49,478.27 L411.09,479.32 L412.69,480.31 L414.28,481.24 L415.85,482.11 L417.39,482.90 L418.94,483.62 L420.53,484.26 L422.12,484.82 L423.71,485.32 L425.30,485.75 L426.87,486.13 L428.42,486.47 L429.93,486.77 L431.41,487.04 L432.84,487.28 L434.22,487.52 L435.54,487.75 L436.89,487.96 L438.26,488.12 L439.62,488.24 L440.96,488.33 L442.26,488.39 L443.50,488.43 L444.68,488.45 L445.77,488.46 L446.76,488.46 L447.63,488.47 L448.36,488.48 L448.96,488.50 L449.04,484.50 L448.39,484.50 L447.60,484.52 L446.71,484.54 L445.73,484.57 L444.66,484.60 L443.52,484.62 L442.33,484.63 L441.10,484.62 L439.84,484.58 L438.58,484.51 L437.32,484.40 L436.06,484.25 L434.74,484.07 L433.36,483.89 L431.95,483.70 L430.50,483.48 L429.02,483.25 L427.53,482.98 L426.03,482.67 L424.53,482.32 L423.03,481.91 L421.54,481.44 L420.07,480.91 L418.61,480.30 L417.13,479.60 L415.60,478.83 L414.04,477.98 L412.47,477.08 L410.89,476.12 L409.32,475.11 L407.77,474.06 L406.25,472.96 L404.78,471.82 L403.37,470.66 L402.02,469.48 L400.75,468.27 L399.54,467.02 L398.37,465.72 L397.23,464.37 L396.14,462.98 L395.09,461.55 L394.08,460.08 L393.11,458.59 L392.19,457.08 L391.32,455.55 L390.50,454.01 L389.73,452.47 L389.02,450.94 L388.36,449.38 L387.76,447.75 L387.21,446.06 L386.72,444.34 L386.27,442.61 L385.87,440.87 L385.51,439.16 L385.19,437.48 L384.90,435.85 L384.64,434.29 L384.41,432.82 L384.21,431.46 L384.05,430.18 L383.95,428.94 L383.91,427.74 L383.91,426.58 L383.94,425.48 L384.00,424.43 L384.08,423.46 L384.16,422.55 L384.25,421.73 L384.32,420.99 L384.37,420.35 L384.40,419.81Z" fill="url(#gb)"/>
<polygon points="457.8,486.2 447.6,481.2 449.6,486.4 448.0,491.4" fill="#6f86c9"/>
<text x="371.50" y="470.50" font-size="8.6" text-anchor="middle" fill="#8d9fd9" textLength="39.6" lengthAdjust="spacingAndGlyphs">Enhanced</text>
<text x="371.00" y="480.70" font-size="8.6" text-anchor="middle" fill="#8d9fd9" textLength="30.0" lengthAdjust="spacingAndGlyphs">binding</text>
<path d="M565.34,475.68 L565.80,476.00 L566.34,476.40 L566.97,476.89 L567.68,477.44 L568.45,478.03 L569.29,478.65 L570.18,479.28 L571.12,479.90 L572.10,480.49 L573.11,481.05 L574.15,481.54 L575.21,481.96 L576.30,482.31 L577.44,482.64 L578.62,482.95 L579.85,483.22 L581.12,483.48 L582.42,483.70 L583.75,483.90 L585.11,484.07 L586.48,484.22 L587.87,484.34 L589.28,484.43 L590.69,484.50 L592.12,484.55 L593.59,484.60 L595.11,484.62 L596.65,484.63 L598.21,484.61 L599.79,484.56 L601.38,484.47 L602.97,484.34 L604.56,484.15 L606.13,483.91 L607.69,483.61 L609.21,483.24 L610.72,482.80 L612.22,482.30 L613.72,481.73 L615.21,481.11 L616.69,480.44 L618.15,479.73 L619.60,478.98 L621.03,478.20 L622.44,477.39 L623.82,476.56 L625.17,475.72 L626.49,474.87 L627.80,473.99 L629.10,473.07 L630.38,472.12 L631.64,471.13 L632.88,470.12 L634.10,469.09 L635.29,468.04 L636.44,466.98 L637.57,465.90 L638.65,464.83 L639.69,463.75 L640.70,462.67 L641.66,461.57 L642.60,460.42 L643.49,459.25 L644.34,458.06 L645.16,456.87 L645.94,455.69 L646.68,454.52 L647.38,453.38 L648.05,452.27 L648.68,451.22 L649.28,450.22 L649.85,449.28 L650.39,448.37 L650.91,447.45 L651.38,446.56 L651.82,445.70 L652.23,444.88 L652.60,444.09 L652.94,443.36 L653.24,442.69 L653.51,442.08 L653.75,441.54 L653.96,441.09 L654.14,440.71 L651.06,439.29 L650.87,439.70 L650.66,440.20 L650.43,440.75 L650.18,441.37 L649.90,442.03 L649.60,442.74 L649.27,443.50 L648.91,444.29 L648.52,445.11 L648.10,445.96 L647.64,446.83 L647.15,447.72 L646.61,448.67 L646.04,449.69 L645.44,450.75 L644.82,451.86 L644.16,452.99 L643.48,454.15 L642.76,455.31 L642.01,456.48 L641.23,457.63 L640.42,458.76 L639.58,459.86 L638.70,460.93 L637.78,461.98 L636.80,463.05 L635.78,464.12 L634.73,465.19 L633.63,466.26 L632.51,467.31 L631.36,468.35 L630.19,469.36 L628.99,470.35 L627.78,471.31 L626.55,472.24 L625.31,473.13 L624.04,474.00 L622.74,474.86 L621.42,475.71 L620.07,476.54 L618.70,477.34 L617.31,478.11 L615.91,478.84 L614.50,479.53 L613.07,480.18 L611.65,480.76 L610.22,481.29 L608.79,481.76 L607.34,482.15 L605.86,482.48 L604.35,482.76 L602.82,482.98 L601.27,483.16 L599.72,483.29 L598.17,483.39 L596.63,483.45 L595.10,483.49 L593.60,483.51 L592.14,483.51 L590.71,483.50 L589.32,483.47 L587.93,483.42 L586.55,483.34 L585.19,483.24 L583.85,483.11 L582.53,482.95 L581.24,482.76 L579.98,482.55 L578.77,482.32 L577.59,482.05 L576.46,481.76 L575.39,481.44 L574.35,481.07 L573.32,480.62 L572.31,480.11 L571.33,479.55 L570.39,478.96 L569.49,478.36 L568.64,477.77 L567.85,477.21 L567.13,476.68 L566.48,476.21 L565.92,475.82 L565.46,475.52Z" fill="url(#gb2)"/>
<polygon points="655.3,432.3 647.7,442.0 652.3,440.6 657.3,443.6" fill="#6f86c9"/>
<text x="604.60" y="454.60" font-size="8.6" text-anchor="middle" fill="#8d9fd9" textLength="30.5" lengthAdjust="spacingAndGlyphs">60-Fold</text>
<text x="604.40" y="464.40" font-size="8.6" text-anchor="middle" fill="#8d9fd9" textLength="40.6" lengthAdjust="spacingAndGlyphs">lower MIC</text>
<text x="593.20" y="325.80" font-size="8.8" text-anchor="middle" fill="#1e1e1e" textLength="47.0" lengthAdjust="spacingAndGlyphs">1. Oxidative</text>
<text x="593.60" y="336.00" font-size="8.6" text-anchor="middle" fill="#1e1e1e">stress</text>
<text x="593.60" y="346.20" font-size="8.6" text-anchor="middle" fill="#1e1e1e" textLength="55.6" lengthAdjust="spacingAndGlyphs">accumulation</text>
<polygon points="582.51,361.29 589.94,368.48 597.21,361.29 598.39,369.58 609.29,368.48 602.50,376.06 609.29,383.72 598.39,382.46 597.21,390.91 589.94,383.96 582.51,390.91 581.80,382.46 570.51,383.72 576.90,376.06 570.51,368.48 581.80,369.58" fill="#8c2d5a"/>
<text x="587.85" y="378.30" font-size="6.8" text-anchor="middle" fill="#fff6f8" textLength="19.9" lengthAdjust="spacingAndGlyphs">Stress</text>
<polygon points="600.05,380.8 600.05,368.4 597.8,368.4 601.3,357.4 605.3,368.4 602.55,368.4 602.55,380.8" fill="#76184a" stroke="#d9a9bf" stroke-width="0.35"/>
<polygon points="609.75,375.3 609.75,362.4 606.3,362.4 611.0,351.5 615.7,362.4 612.25,362.4 612.25,375.3" fill="#76184a"/>
<line x1="562.80" y1="395.90" x2="619.00" y2="395.90" stroke="#111" stroke-width="1.0" />
<polygon points="622.9,395.9 617.5,393.6 617.5,398.2" fill="#111"/>
<text x="594.10" y="408.80" font-size="8.6" text-anchor="middle" fill="#1e1e1e" textLength="51.4" lengthAdjust="spacingAndGlyphs">2. Cell death</text>
<text x="663.95" y="422.7" font-size="8.7" fill="#1e1e1e" text-anchor="middle" font-style="italic" textLength="33.3" lengthAdjust="spacingAndGlyphs">H. pylori</text>
<defs><filter id="bl" x="-50%" y="-50%" width="200%" height="200%"><feGaussianBlur stdDeviation="0.9"/></filter></defs>
<polygon points="646.5,367.0 641.8,375.2 646.5,377.2 651.2,375.6" fill="#9a9a9a" filter="url(#bl)" opacity="0.9"/>
<polygon points="674.5,371.0 665.0,366.5 663.8,371.0 666.0,375.0" fill="#9a9a9a" filter="url(#bl)" opacity="0.9"/>
<polygon points="661.0,386.5 661.6,378.5 666.5,377.6 669.2,381.0" fill="#9a9a9a" filter="url(#bl)" opacity="0.9"/>
<polygon points="637.5,404.5 630.5,407.0 632.0,412.0 636.5,412.8" fill="#9a9a9a" filter="url(#bl)" opacity="0.9"/>
<path d="M660.5,359.8 C663,359 664.5,357 667.5,356.3 C670.5,355.8 672,357.8 675,357.6 C677,357.4 678,356.8 678.8,356.7" fill="none" stroke="#5a5a5a" stroke-width="0.65"/>
<path d="M681.8,383.0 C682.5,386 684.5,388.5 684.6,392 C684.7,395 683.8,397 685,400" fill="none" stroke="#5a5a5a" stroke-width="0.65"/>
<path d="M646.5,384.8 C643,384.5 640.5,384.6 638.4,383.5 C636,382 635,380 633.9,379.5 C632,378.3 630.5,377.2 629.0,376.8" fill="none" stroke="#5a5a5a" stroke-width="0.65"/>
<path d="M654.8,404.7 C657,404.2 659.5,404 661.8,404.3 C664,405 665.5,407 667,407.8 C668.5,408.8 670,409.6 671.4,410.0" fill="none" stroke="#5a5a5a" stroke-width="0.65"/>
<path d="M643.2,364.0 C646,362.6 648.5,362.6 651,361.9 C654,361.0 656.5,360.0 658.6,359.6" fill="none" stroke="#4b4b4b" stroke-width="5.6" stroke-linecap="round" stroke-linejoin="round"/>
<path d="M678.4,368.8 C678.6,372 679.6,376 681.0,380.8" fill="none" stroke="#4b4b4b" stroke-width="6.6" stroke-linecap="round" stroke-linejoin="round"/>
<path d="M648.0,385.6 C651,386.2 654,387.0 657,387.6 C659.5,388.2 661.3,388.8 662.2,389.6" fill="none" stroke="#4b4b4b" stroke-width="5.9" stroke-linecap="round" stroke-linejoin="round"/>
<path d="M636.4,401.0 C639.5,402.0 643,402.6 646.5,402.8 C649.5,403.0 651.2,403.1 652.0,403.4" fill="none" stroke="#4b4b4b" stroke-width="5.9" stroke-linecap="round" stroke-linejoin="round"/>
<circle cx="644.0" cy="363.9" r="3.4" fill="#4b4b4b"/>
<circle cx="657.8" cy="359.9" r="3.1" fill="#4b4b4b"/>
<circle cx="678.5" cy="369.5" r="3.6" fill="#4b4b4b"/>
<circle cx="680.8" cy="380.2" r="3.5" fill="#4b4b4b"/>
<circle cx="648.6" cy="385.7" r="3.3" fill="#4b4b4b"/>
<circle cx="661.5" cy="389.3" r="3.5" fill="#4b4b4b"/>
<circle cx="637.0" cy="401.0" r="3.4" fill="#4b4b4b"/>
<circle cx="651.3" cy="403.3" r="3.3" fill="#4b4b4b"/>
<circle cx="650.8" cy="368.6" r="0.45" fill="#262626"/>
<circle cx="651.8" cy="369.4" r="0.45" fill="#262626"/>
<circle cx="671.6" cy="374.9" r="0.45" fill="#262626"/>
<circle cx="658.2" cy="381.3" r="0.45" fill="#262626"/>
<circle cx="659.4" cy="381.0" r="0.45" fill="#262626"/>
<circle cx="640.8" cy="407.4" r="0.45" fill="#262626"/>
<circle cx="641.4" cy="408.0" r="0.45" fill="#262626"/>
</svg></body></html>
